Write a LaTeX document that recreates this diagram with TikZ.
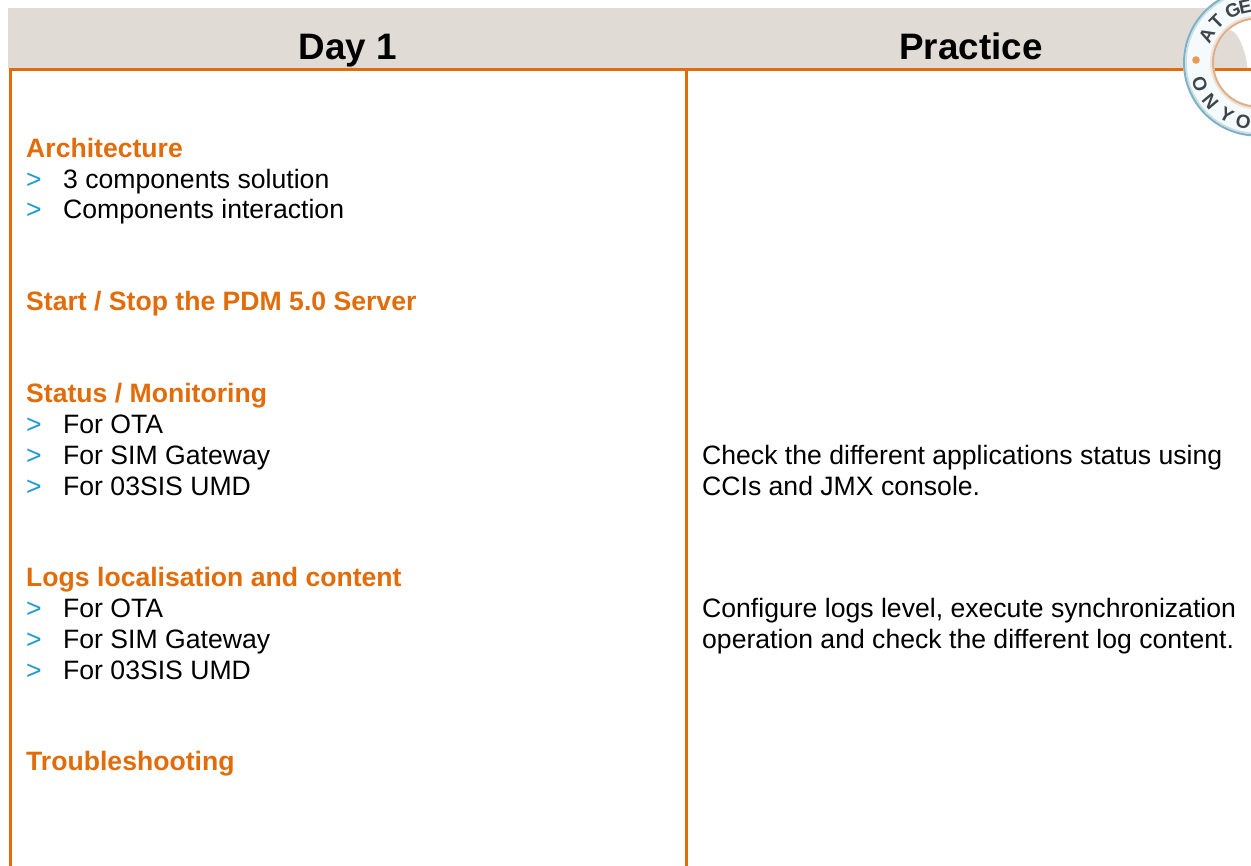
\documentclass[tikz,border=0pt]{standalone}
\usepackage{fontspec}
\setmainfont{Liberation Sans}
\definecolor{hdrbg}{HTML}{E0DCD5}
\definecolor{rule}{HTML}{E36C0A}
\definecolor{bul}{HTML}{1E9BD0}
\definecolor{ringblue}{HTML}{7FB0C4}
\definecolor{ringpale}{HTML}{F5FAFC}
\definecolor{ringtan}{HTML}{DDB08C}
\definecolor{ringtext}{HTML}{3F444A}
\tikzset{
  hdr/.style={anchor=base,inner sep=0pt,font=\fontsize{36.8}{37}\selectfont\bfseries},
  head/.style={anchor=base west,inner sep=0pt,text=rule,font=\fontsize{26.6}{27}\selectfont\bfseries},
  body/.style={anchor=base west,inner sep=0pt,font=\fontsize{26.6}{27}\selectfont},
  bulmark/.style={anchor=base west,inner sep=0pt,text=bul,font=\fontsize{26.6}{27}\selectfont},
  orule/.style={draw=rule,line width=3pt},
  ringl/.style={inner sep=0pt,text=ringtext,font=\fontsize{19}{19}\selectfont\bfseries}
}
\newcommand{\bitem}[3]{\node[bulmark] (#1b) at (26,#2) {>}; \node[body] (#1) at (63,#2) {#3};}
\begin{document}
\begin{tikzpicture}[x=1pt,y=-1pt]
\useasboundingbox (0,0) rectangle (1251,866);
\fill[white] (0,0) rectangle (1251,866);
\fill[hdrbg] (8,8) rectangle (1251,69);
% white part seen through the stamp
\fill[white] (1225,30) .. controls (1230,29) and (1234,31) .. (1237,35)
  .. controls (1243,45) and (1247,58) .. (1247.5,69) -- (1251,69) -- (1251,0) -- (1225,0) -- cycle;
\coordinate (tl) at (9,70);
\coordinate (tr) at (1251,70);
\coordinate (lb) at (10.5,866);
\coordinate (lt) at (10.5,70);
\coordinate (mb) at (686.5,866);
\coordinate (mt) at (686.5,70);
\draw[orule] (tl) -- (tr);
\draw[orule] (lt) -- (lb);
\draw[orule] (mt) -- (mb);
\node[hdr] (day) at (348,60) {Day 1};
\node[hdr] (prac) at (971,60) {Practice};
\node[head] (h1) at (26,158) {Architecture};
\bitem{a1}{189}{3 components solution}
\bitem{a2}{219}{Components interaction}
\node[head] (h2) at (26,311) {Start / Stop the PDM 5.0 Server};
\node[head] (h3) at (26,403) {Status / Monitoring};
\bitem{b1}{434}{For OTA}
\bitem{b2}{465}{For SIM Gateway}
\bitem{b3}{496}{For 03SIS UMD}
\node[head] (h4) at (26,586.5) {Logs localisation and content};
\bitem{c1}{617.5}{For OTA}
\bitem{c2}{648.5}{For SIM Gateway}
\bitem{c3}{679.5}{For 03SIS UMD}
\node[head] (h5) at (26,770.5) {Troubleshooting};
\node[body] (p1) at (702,465) {Check the different applications status using};
\node[body] (p2) at (702,496) {CCIs and JMX console.};
\node[body] (p3) at (702,617.5) {Configure logs level, execute synchronization};
\node[body] (p4) at (702,648.5) {operation and check the different log content.};
% stamp
\begin{scope}
\clip (0,0) rectangle (1251,866);
\begin{scope}[shift={(1257,62.5)}]
\fill[ringpale,even odd rule] (0,0) circle (74) (0,0) circle (43);
\draw[ringblue!40,line width=1.5pt] (0,0) circle (71);
\draw[ringblue,line width=2pt] (0,0) circle (73);
\draw[ringtan!35,line width=2pt] (0,0) circle (46);
\draw[ringtan,line width=2pt] (0,0) circle (44);
\fill[rule!70] (-61,-2.5) circle (3.8);
\foreach \nm/\ch/\ang in {g1/A/151.5,g2/T/135,g3/G/115,g4/E/102}{
  \node[ringl,rotate=\ang-90] (\nm) at (-\ang:57) {\ch};
}
\foreach \nm/\ch/\ang in {u1/O/200.5,u2/N/220,u3/Y/240,u4/O/257}{
  \node[ringl,rotate=\ang+90] (\nm) at (-\ang:61) {\ch};
}
\end{scope}
\end{scope}
\end{tikzpicture}
\end{document}
